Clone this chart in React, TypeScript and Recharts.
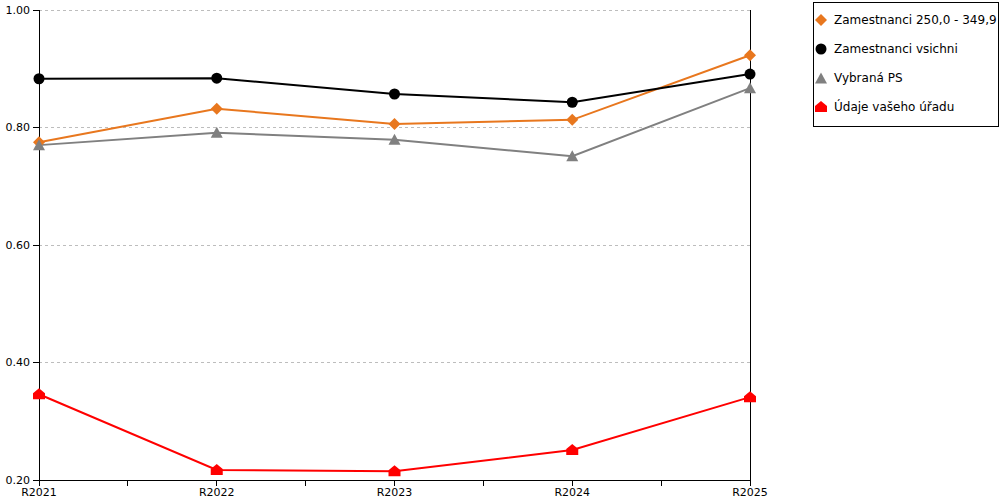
import React from 'react'
import { LineChart, Line, XAxis, YAxis, CartesianGrid, ReferenceLine } from 'recharts'

const categories = ['R2021', 'R2022', 'R2023', 'R2024', 'R2025']
const zamestnanci250 = [0.775, 0.832, 0.806, 0.813, 0.923]
const zamestnanciVsichni = [0.883, 0.884, 0.857, 0.843, 0.891]
const vybranaPS = [0.77, 0.791, 0.779, 0.751, 0.867]
const udajeUradu = [0.346, 0.217, 0.215, 0.251, 0.341]
const yTicks = [0.2, 0.4, 0.6, 0.8, 1.0]
const xTicks = [0, 0.5, 1, 1.5, 2, 2.5, 3, 3.5, 4]

const ORANGE = '#E8771E'
const BLACK = '#000000'
const GRAY = '#808080'
const RED = '#FF0000'

const data = categories.map((c, i) => ({
  idx: i,
  name: c,
  zam250: zamestnanci250[i],
  zamAll: zamestnanciVsichni[i],
  vybrana: vybranaPS[i],
  urad: udajeUradu[i],
}))

type Shape = 'diamond' | 'circle' | 'triangle' | 'house'

function markerPath(shape: Shape, cx: number, cy: number): string {
  switch (shape) {
    case 'diamond':
      return `M${cx},${cy - 6}L${cx + 6},${cy}L${cx},${cy + 6}L${cx - 6},${cy}Z`
    case 'triangle':
      return `M${cx},${cy - 6}L${cx + 6},${cy + 5}L${cx - 6},${cy + 5}Z`
    case 'house':
      return `M${cx},${cy - 6}L${cx + 6},${cy - 1}L${cx + 6},${cy + 5}L${cx - 6},${cy + 5}L${cx - 6},${cy - 1}Z`
    default:
      return ''
  }
}

function Marker({ shape, cx, cy, color }: { shape: Shape; cx: number; cy: number; color: string }) {
  if (shape === 'circle') return <circle cx={cx} cy={cy} r={5.5} fill={color} />
  return <path d={markerPath(shape, cx, cy)} fill={color} />
}

const makeDot = (shape: Shape, color: string) => (props: any) => {
  const { cx, cy, index } = props
  if (cx == null || cy == null) return <g key={`e-${index}`} />
  return (
    <g key={`${shape}-${index}`}>
      <Marker shape={shape} cx={cx} cy={cy} color={color} />
    </g>
  )
}

const legendItems: { label: string; shape: Shape; color: string }[] = [
  { label: 'Zamestnanci 250,0 - 349,9', shape: 'diamond', color: ORANGE },
  { label: 'Zamestnanci vsichni', shape: 'circle', color: BLACK },
  { label: 'Vybraná PS', shape: 'triangle', color: GRAY },
  { label: 'Údaje vašeho úřadu', shape: 'house', color: RED },
]

function LegendBox() {
  return (
    <div
      style={{
        position: 'absolute',
        left: 813,
        top: 2,
        width: 184,
        height: 123,
        border: '1px solid #000',
        background: '#fff',
        fontFamily: 'DejaVu Sans',
        fontSize: 12,
        color: '#000',
      }}
    >
      {legendItems.map((item, i) => (
        <div
          key={item.label}
          style={{ position: 'absolute', left: 0, top: 8 + i * 29, height: 18, display: 'flex', alignItems: 'center' }}
        >
          <svg width={20} height={18} style={{ display: 'block' }}>
            <Marker shape={item.shape} cx={7} cy={item.shape === 'triangle' ? 9.5 : 9} color={item.color} />
          </svg>
          <span style={{ whiteSpace: 'nowrap' }}>{item.label}</span>
        </div>
      ))}
    </div>
  )
}

const tickStyle = { fontSize: 11, fill: '#000', fontFamily: 'DejaVu Sans' }
const axisStroke = { stroke: '#000', shapeRendering: 'crispEdges' } as any

export default function App() {
  return (
    <div style={{ position: 'relative', width: 1000, height: 500, background: '#fff' }}>
      <style>{'body{margin:0}'}</style>
      <LineChart
        width={1000}
        height={500}
        data={data}
        margin={{ top: 10, right: 250, left: 0, bottom: 0 }}
        style={{ fontFamily: 'DejaVu Sans' }}
      >
        <CartesianGrid vertical={false} stroke="#bdbdbd" strokeDasharray="3 3" shapeRendering="crispEdges" />
        <XAxis
          dataKey="idx"
          type="number"
          domain={[0, 4]}
          ticks={xTicks}
          interval={0}
          tickFormatter={(v: number) => (Number.isInteger(v) ? categories[v] : '')}
          axisLine={axisStroke}
          tickLine={axisStroke}
          tickSize={6}
          tick={tickStyle}
          height={20}
        />
        <YAxis
          domain={[0.2, 1.0]}
          ticks={yTicks}
          tickFormatter={(v: number) => v.toFixed(2)}
          axisLine={axisStroke}
          tickLine={axisStroke}
          tickSize={6}
          tickMargin={3}
          tick={tickStyle}
          width={39}
        />
        <ReferenceLine x={4} stroke="#000" strokeOpacity={1} shapeRendering="crispEdges" />
        <Line
          dataKey="zam250"
          stroke={ORANGE}
          strokeWidth={2}
          dot={makeDot('diamond', ORANGE)}
          activeDot={false}
          isAnimationActive={false}
        />
        <Line
          dataKey="zamAll"
          stroke={BLACK}
          strokeWidth={2}
          dot={makeDot('circle', BLACK)}
          activeDot={false}
          isAnimationActive={false}
        />
        <Line
          dataKey="vybrana"
          stroke={GRAY}
          strokeWidth={2}
          dot={makeDot('triangle', GRAY)}
          activeDot={false}
          isAnimationActive={false}
        />
        <Line
          dataKey="urad"
          stroke={RED}
          strokeWidth={2}
          dot={makeDot('house', RED)}
          activeDot={false}
          isAnimationActive={false}
        />
      </LineChart>
      <LegendBox />
    </div>
  )
}
